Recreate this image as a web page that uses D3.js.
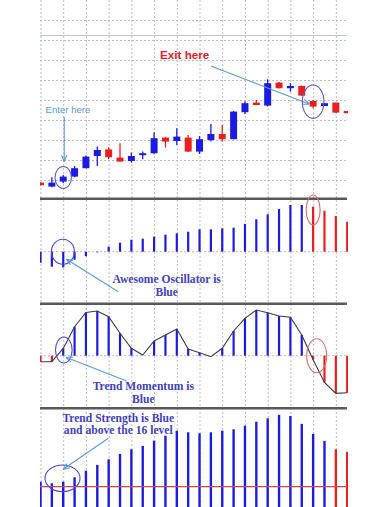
<!DOCTYPE html>
<html>
<head>
<meta charset="utf-8">
<script src="https://cdn.jsdelivr.net/npm/d3@7"></script>
<style>
  body { margin: 0; background: #fff; }
  svg { display: block; }
</style>
</head>
<body>
<svg id="chart" width="390" height="507"></svg>
<script>
// candles (price in grid units, grid every 10)
const opens  = [8.7, 6.7, 9.2, 11.7, 15.9, 22, 25.3, 21.2, 19.5, 22.5, 23.4, 31.2, 29.5, 31.2, 24.2, 30, 33, 30.4, 43.9, 48.7, 47.2, 58.7, 55.9, 57, 49.5, 47, 48.7, 44.5];
const highs  = [8.9, 11.4, 12.5, 17, 22.2, 26.7, 26.4, 28.4, 23.7, 24.2, 33.9, 31.5, 35.9, 32.5, 32, 38, 37.5, 44.5, 49.2, 50, 60.4, 59, 58.4, 57.3, 50, 48.5, 48.8, 44.5];
const lows   = [7.2, 6.4, 8.4, 11.4, 15.9, 17, 20.4, 19.2, 18.7, 20.4, 22.9, 26.2, 27.5, 24, 23, 29.2, 29.2, 30.4, 43, 47.5, 46.7, 55.8, 54.2, 52, 45.9, 47, 43.5, 43.4];
const closes = [7.4, 8.7, 11.7, 15.9, 21.7, 25, 21.4, 19.2, 22, 23.4, 30.9, 29.2, 31.7, 24.2, 30.4, 33, 30.4, 44.2, 48.4, 47.5, 58.4, 55.9, 57, 52.2, 46.7, 48.4, 43.7, 43.4];

// awesome oscillator
const aoValues = [-11, -15, -15.7, -8, -4.5, -0.6, 5, 9, 12, 13, 15, 17, 18.4, 20, 22.4, 22.4, 23.4, 24, 27.7, 32.4, 37.4, 42.7, 46.7, 46.7, 45, 41, 35.7, 30];
const aoState  = ['bull','bull','bull','bull','bull','bull','bull','bull','bull','bull','bull','bull','bull','bull','bull','bull','bull','bull','bull','bull','bull','bull','bull','bull','bear','bear','bear','bear'];

// trend momentum
const tmValues = [-6, -6, 7.3, 29, 43.3, 44.7, 39, 22.4, 7.4, 0.7, 14.7, 20.7, 26.7, 6.7, 3, -1, 7.4, 24.7, 37.4, 45.7, 43, 39.7, 38.4, 20.7, -4, -26.7, -37.7, -37];

// trend strength
const tsValues = [18.5, 17.7, 18.5, 20.7, 24, 26.9, 29.7, 32.4, 34.7, 36.4, 39, 41.5, 44, 43.2, 42.7, 43.2, 44, 44.7, 46.5, 48.5, 50.2, 51.9, 51.4, 47.4, 42.4, 38.9, 34.7, 33.5];
const tsState  = ['bull','bull','bull','bull','bull','bull','bull','bull','bull','bull','bull','bull','bull','bull','bull','bull','bull','bull','bull','bull','bull','bull','bull','bull','bull','bull','bear','bear'];
const tsLevel = 16;

const idx = d3.range(opens.length);
const W = 390, H = 507;
const left = 40, right = 347;

const svg = d3.select('#chart');
const x = d3.scaleLinear().domain([0, 27]).range([40.5, 347.2]);
const yPrice = d3.scaleLinear().domain([0, 100]).range([200, 0]);
const yAo = d3.scaleLinear().domain([-52, 53]).range([303.7, 198.7]);
const yTm = d3.scaleLinear().domain([-52, 52]).range([407.7, 303.7]);
const yTs = d3.scaleLinear().domain([6, 56]).range([506.7, 406.7]);

const stateColor = d3.scaleOrdinal().domain(['bull', 'bear']).range(['#1c1ce0', '#ea2020']);
const gridColor = '#b9bdc8';

const defs = svg.append('defs');
defs.append('clipPath').attr('id', 'plot')
  .append('rect').attr('x', left).attr('y', 0).attr('width', right - left + 1).attr('height', H);
defs.append('marker').attr('id', 'arr')
  .attr('viewBox', '0 0 10 10').attr('refX', 9).attr('refY', 5)
  .attr('markerWidth', 6).attr('markerHeight', 6).attr('orient', 'auto')
  .append('path').attr('d', 'M0,1 L10,5 L0,9').attr('fill', 'none')
  .attr('stroke', '#5b9bd5').attr('stroke-width', 1.6);

// vertical grid, every 2 bars
const vgrid = svg.append('g')
  .call(d3.axisTop(x).tickValues(d3.range(0, 28, 2)).tickSize(-H).tickFormat(''));
vgrid.select('.domain').remove();
vgrid.selectAll('line').attr('stroke', gridColor).attr('stroke-dasharray', '2,2');

// horizontal grid in price pane
const hgrid = svg.append('g').attr('transform', `translate(${left},0)`)
  .call(d3.axisLeft(yPrice).tickValues(d3.range(10, 100, 10)).tickSize(-(right - left)).tickFormat(''));
hgrid.select('.domain').remove();
hgrid.selectAll('line').attr('stroke', gridColor).attr('stroke-dasharray', '2,2');

svg.append('line')
  .attr('x1', left).attr('x2', right).attr('y1', 35.5).attr('y2', 35.5)
  .attr('stroke', '#bcc6d2').attr('stroke-width', 1.2);

// zero lines
[yAo(0), yTm(0)].forEach(y0 => {
  svg.append('line')
    .attr('x1', left).attr('x2', right).attr('y1', y0).attr('y2', y0)
    .attr('stroke', gridColor).attr('stroke-dasharray', '2,2');
});

const plot = svg.append('g').attr('clip-path', 'url(#plot)');

// candles
const candle = plot.append('g').selectAll('g')
  .data(idx)
  .join('g')
    .attr('fill', i => closes[i] >= opens[i] ? stateColor('bull') : stateColor('bear'))
    .attr('stroke', i => closes[i] >= opens[i] ? stateColor('bull') : stateColor('bear'));
candle.append('line')
  .attr('x1', i => x(i)).attr('x2', i => x(i))
  .attr('y1', i => yPrice(highs[i])).attr('y2', i => yPrice(lows[i]))
  .attr('stroke-width', 1.3);
candle.append('rect')
  .attr('stroke', 'none')
  .attr('x', i => x(i) - 3.5).attr('width', 7)
  .attr('y', i => yPrice(Math.max(opens[i], closes[i])))
  .attr('height', i => Math.max(2, yPrice(Math.min(opens[i], closes[i])) - yPrice(Math.max(opens[i], closes[i]))));

// AO histogram
plot.append('g').selectAll('line')
  .data(idx)
  .join('line')
    .attr('x1', i => x(i)).attr('x2', i => x(i))
    .attr('y1', yAo(0)).attr('y2', i => yAo(aoValues[i]))
    .attr('stroke', i => stateColor(aoState[i]))
    .attr('stroke-width', 2.2);

// trend momentum
plot.append('g').selectAll('line')
  .data(idx.filter(i => Math.abs(tmValues[i]) > 1.5))
  .join('line')
    .attr('x1', i => x(i)).attr('x2', i => x(i))
    .attr('y1', yTm(0)).attr('y2', i => yTm(tmValues[i]))
    .attr('stroke', i => tmValues[i] >= 0 ? stateColor('bull') : stateColor('bear'))
    .attr('stroke-width', 2.2);
plot.append('path')
  .datum(idx)
  .attr('fill', 'none').attr('stroke', '#3c3c44').attr('stroke-width', 1.1)
  .attr('d', d3.line().x(i => x(i)).y(i => yTm(tmValues[i])));

// trend strength
plot.append('g').selectAll('line')
  .data(idx)
  .join('line')
    .attr('x1', i => x(i)).attr('x2', i => x(i))
    .attr('y1', H + 2).attr('y2', i => yTs(tsValues[i]))
    .attr('stroke', i => stateColor(tsState[i]))
    .attr('stroke-width', 2.4);
svg.append('line')
  .attr('x1', left).attr('x2', right).attr('y1', yTs(tsLevel)).attr('y2', yTs(tsLevel))
  .attr('stroke', '#e04444').attr('stroke-width', 1.2);

// pane separators
[198.7, 303.7, 408.3].forEach(y => {
  svg.append('line')
    .attr('x1', left).attr('x2', right).attr('y1', y).attr('y2', y)
    .attr('stroke', '#595959').attr('stroke-width', 2.6);
});

// annotations
const note = svg.append('g');
function ellipse(cx, cy, rx, ry, color) {
  note.append('ellipse').attr('cx', cx).attr('cy', cy).attr('rx', rx).attr('ry', ry)
    .attr('fill', 'none').attr('stroke', color).attr('stroke-width', 1.1);
}
function arrow(x1, y1, x2, y2) {
  note.append('line').attr('x1', x1).attr('y1', y1).attr('x2', x2).attr('y2', y2)
    .attr('stroke', '#5b9bd5').attr('stroke-width', 1.1).attr('marker-end', 'url(#arr)');
}
function serifText(lines, cx, y0) {
  lines.forEach((t, k) => {
    note.append('text').attr('x', cx).attr('y', y0 + k * 12.5)
      .attr('text-anchor', 'middle')
      .attr('font-family', '"Liberation Serif", "DejaVu Serif", serif')
      .attr('font-size', 11.6).attr('font-weight', 'bold')
      .attr('fill', '#4242c0').text(t);
  });
}

note.append('text').attr('x', 184.7).attr('y', 58.5).attr('text-anchor', 'middle')
  .attr('font-family', '"Liberation Sans", Arial, sans-serif')
  .attr('font-size', 11.7).attr('font-weight', 'bold').attr('fill', '#e8202a')
  .text('Exit here');
arrow(211, 66, 309, 104);
ellipse(x(24), 101.7, 10.8, 16.7, '#5a5ad0');

note.append('text').attr('x', 68).attr('y', 113).attr('text-anchor', 'middle')
  .attr('font-family', '"Liberation Sans", Arial, sans-serif')
  .attr('font-size', 9.6).attr('fill', '#5b9bd5')
  .text('Enter here');
arrow(x(2) + 1, 117, x(2) + 1, 161);
ellipse(x(2), 177.5, 8.2, 11, '#5a5ad0');

ellipse(x(2) - 0.3, 251.7, 11.5, 12.5, '#4a4ad8');
ellipse(x(24), 210, 7, 15, '#e06a6a');
arrow(118.3, 291.7, 67, 259.5);
serifText(['Awesome Oscillator is', 'Blue'], 166.7, 283.3);

ellipse(x(2) + 0.6, 350, 8.3, 13, '#4a4ad8');
ellipse(316.7, 355.7, 10, 17, '#e06a6a');
arrow(126.7, 381, 66.5, 357.5);
serifText(['Trend Momentum is', 'Blue'], 143.3, 390);

ellipse(62.5, 478.3, 17.5, 13.3, '#4a4ad8');
arrow(108.3, 438.3, 63.5, 469);
serifText(['Trend Strength is Blue', 'and above the 16 level'], 118.3, 421.7);
</script>
</body>
</html>
